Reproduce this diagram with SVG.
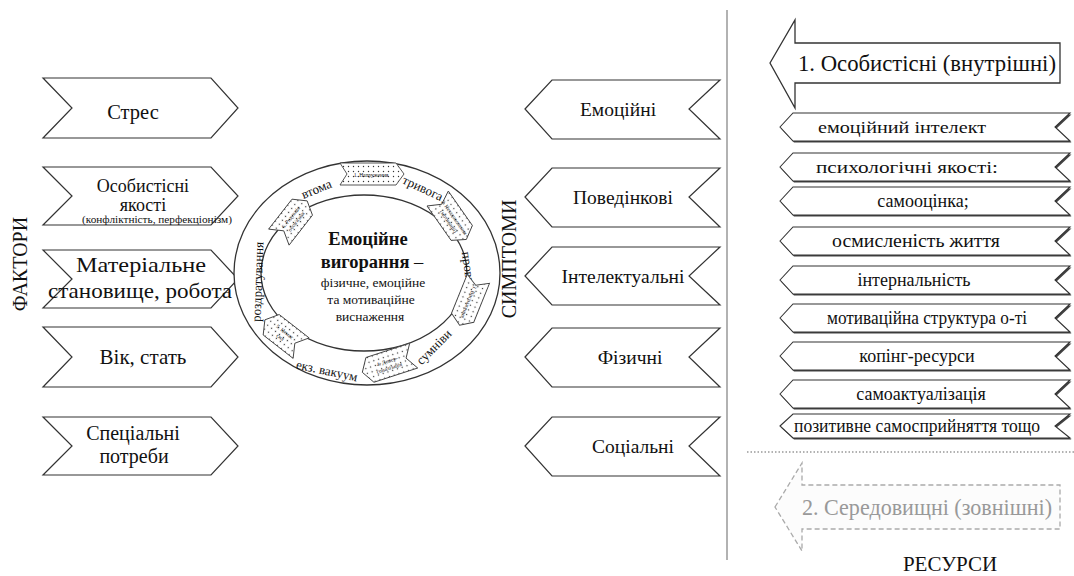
<svg xmlns="http://www.w3.org/2000/svg" width="1074" height="576" viewBox="0 0 1074 576" font-family="'Liberation Serif', 'Times New Roman', serif">
<defs>
<pattern id="dots" width="5" height="5" patternUnits="userSpaceOnUse">
<rect width="5" height="5" fill="#fff"/>
<circle cx="2.5" cy="2.5" r="0.7" fill="#333"/>
</pattern>
<style>
text{font-family:'Liberation Serif','Times New Roman',serif;fill:#111;text-anchor:middle;}
.chev{fill:#fff;stroke:#333;stroke-width:1.2;}
.sm{fill:#fff;stroke:#333;stroke-width:1.1;}
.shd{fill:#444;stroke:none;}
.s19{font-size:19.5px;}
.r18{font-size:18px;}
.r17{font-size:17px;}
.ring{font-size:13px;}
.dchev{fill:url(#dots);stroke:#444;stroke-width:0.9;}
.tiny{font-size:5.5px;}
</style>
</defs>
<rect width="1074" height="576" fill="#fff"/>

<!-- divider -->
<line x1="727" y1="10" x2="727" y2="560" stroke="#999" stroke-width="1.5"/>
<line x1="747" y1="452" x2="1074" y2="452" stroke="#999" stroke-width="1.5" stroke-dasharray="1.5,2"/>

<!-- side labels -->
<text transform="translate(27,264) rotate(-90)" style="font-size:20px">ФАКТОРИ</text>
<text transform="translate(516,259) rotate(-90)" style="font-size:20px">СИМПТОМИ</text>
<text x="950" y="571" style="font-size:21px">РЕСУРСИ</text>

<!-- Factors -->
<g id="f-stres">
<path class="chev" d="M43,78 L211,78 L238,108 L211,138 L43,138 L72,108 Z"/>
<text x="133" y="119" style="font-size:20.5px">Стрес</text>
</g>
<g id="f-osob">
<path class="chev" d="M43,167 L211,167 L238,196 L211,225 L43,225 L72,196 Z"/>
<text x="143" y="192" style="font-size:18px">Особистісні</text>
<text x="143" y="211" style="font-size:18px">якості</text>
<text x="157" y="223" style="font-size:9.5px" textLength="150" lengthAdjust="spacingAndGlyphs">(конфліктність, перфекціонізм)</text>
</g>
<g id="f-mat">
<path class="chev" d="M43,250 L211,250 L238,279 L211,308 L43,308 L72,279 Z"/>
<text x="141" y="272" style="font-size:21.5px" textLength="130" lengthAdjust="spacingAndGlyphs">Матеріальне</text>
<text x="140" y="298" style="font-size:21.5px" textLength="184" lengthAdjust="spacingAndGlyphs">становище, робота</text>
</g>
<g id="f-vik">
<path class="chev" d="M43,327 L211,327 L238,357 L211,387 L43,387 L72,357 Z"/>
<text x="143" y="364" style="font-size:21px">Вік, стать</text>
</g>
<g id="f-spec">
<path class="chev" d="M43,417 L211,417 L238,446 L211,475 L43,475 L72,446 Z"/>
<text x="133" y="440" style="font-size:20px">Спеціальні</text>
<text x="134" y="463" style="font-size:20px">потреби</text>
</g>

<!-- Symptoms -->
<g id="s-emo">
<path class="chev" d="M525,109 L552,80 L720,80 L689,109 L720,139 L552,139 Z"/>
<text class="s19" x="618" y="116">Емоційні</text>
</g>
<g id="s-pov">
<path class="chev" d="M525,197 L552,168 L720,168 L689,197 L720,227 L552,227 Z"/>
<text class="s19" x="623" y="204">Поведінкові</text>
</g>
<g id="s-int">
<path class="chev" d="M525,276 L552,247 L720,247 L689,276 L720,305 L552,305 Z"/>
<text class="s19" x="623" y="283">Інтелектуальні</text>
</g>
<g id="s-fiz">
<path class="chev" d="M525,357 L552,328 L720,328 L689,357 L720,387 L552,387 Z"/>
<text class="s19" x="630" y="364">Фізичні</text>
</g>
<g id="s-soc">
<path class="chev" d="M525,446 L552,417 L720,417 L689,446 L720,476 L552,476 Z"/>
<text class="s19" x="633" y="453">Соціальні</text>
</g>

<!-- Central ring -->
<g id="burnout">
<ellipse cx="367" cy="273" rx="133" ry="112" fill="#fff" stroke="#333" stroke-width="1.3"/>
<ellipse cx="364" cy="273" rx="103" ry="78" fill="#fff" stroke="#333" stroke-width="1.3"/>
<text x="368" y="245" style="font-size:18.5px;font-weight:bold">Емоційне</text>
<text x="372" y="268" style="font-size:18.5px"><tspan font-weight="bold">вигорання</tspan> –</text>
<text x="373" y="287" style="font-size:13.5px">фізичне, емоційне</text>
<text x="371" y="304" style="font-size:13.5px">та мотиваційне</text>
<text x="370" y="321" style="font-size:13.5px">виснаження</text>

<text class="ring" transform="translate(318,193) rotate(-22)">втома</text>
<text class="ring" transform="translate(421,192) rotate(25)">тривога</text>
<text class="ring" transform="translate(465,275) rotate(82)">провина</text>
<text class="ring" transform="translate(437,350) rotate(-45)">сумніви</text>
<text class="ring" transform="translate(326,375) rotate(12)">екз. вакуум</text>
<text class="ring" transform="translate(262,282) rotate(-88)">роздратування</text>

<g transform="translate(371,174)">
<path class="dchev" d="M-31,-11 L25,-11 L33,0 L25,11 L-31,11 L-24,0 Z"/>
<text class="tiny" x="0" y="3">1. Напруження</text>
</g>
<g transform="translate(452,219) rotate(55)">
<path class="dchev" d="M-25,-13 L17,-13 L25,0 L17,13 L-25,13 L-18,0 Z"/>
<text class="tiny" x="0" y="-1">2. Незадоволення</text>
<text class="tiny" x="0" y="6">(мотивації)</text>
</g>
<g transform="translate(469,302) rotate(112)">
<path class="dchev" d="M-25,-12 L17,-12 L25,0 L17,12 L-25,12 L-18,0 Z"/>
<text class="tiny" x="0" y="2">3. Виснаження</text>
</g>
<g transform="translate(388,364) rotate(162)">
<path class="dchev" d="M-27,-13 L19,-13 L27,0 L19,13 L-27,13 L-19,0 Z"/>
<text class="tiny" transform="rotate(180)" x="0" y="-1">4. Депер-</text>
<text class="tiny" transform="rotate(180)" x="0" y="6">соналізація</text>
</g>
<g transform="translate(283,334) rotate(218)">
<path class="dchev" d="M-23,-13 L15,-13 L23,0 L15,13 L-23,13 L-15,0 Z"/>
<text class="tiny" transform="rotate(180)" x="0" y="-1">5. Немає</text>
<text class="tiny" transform="rotate(180)" x="0" y="6">сил</text>
</g>
<g transform="translate(293,219) rotate(-52)">
<path class="dchev" d="M-23,-13 L15,-13 L23,0 L15,13 L-23,13 L-15,0 Z"/>
<text class="tiny" x="0" y="-1">6. Редукція</text>
<text class="tiny" x="0" y="6">обов'язків</text>
</g>
</g>

<!-- Resources -->
<g id="r-big1">
<path d="M770,63 L795,20 L795,43 L1060,43 L1060,83 L795,83 L795,108 Z" fill="#fff" stroke="#333" stroke-width="1.3"/>
<text x="927" y="71" style="font-size:23px" textLength="258" lengthAdjust="spacingAndGlyphs">1. Особистісні (внутрішні)</text>
</g>
<g id="r-1">
<path class="shd" d="M781,128.5 L794,114.5 L1071.5,114.5 L1056.5,128.5 L1071.5,142.5 L794,142.5 Z"/>
<path class="sm" d="M780,127 L793,113 L1070,113 L1055,127 L1070,141 L793,141 Z"/>
<text class="r17" x="902" y="133" textLength="168" lengthAdjust="spacingAndGlyphs">емоційний інтелект</text>
</g>
<g id="r-2">
<path class="shd" d="M781,168.5 L794,154.5 L1071.5,154.5 L1056.5,168.5 L1071.5,182.5 L794,182.5 Z"/>
<path class="sm" d="M780,167 L793,153 L1070,153 L1055,167 L1070,181 L793,181 Z"/>
<text class="r17" x="907" y="173" textLength="182" lengthAdjust="spacingAndGlyphs">психологічні якості:</text>
</g>
<g id="r-3">
<path class="shd" d="M781,202.5 L794,188.5 L1071.5,188.5 L1056.5,202.5 L1071.5,216.5 L794,216.5 Z"/>
<path class="sm" d="M780,201 L793,187 L1070,187 L1055,201 L1070,215 L793,215 Z"/>
<text class="r18" x="923" y="207">самооцінка;</text>
</g>
<g id="r-4">
<path class="shd" d="M781,242.5 L794,228.5 L1071.5,228.5 L1056.5,242.5 L1071.5,256.5 L794,256.5 Z"/>
<path class="sm" d="M780,241 L793,227 L1070,227 L1055,241 L1070,255 L793,255 Z"/>
<text class="r18" x="916" y="247" textLength="168" lengthAdjust="spacingAndGlyphs">осмисленість життя</text>
</g>
<g id="r-5">
<path class="shd" d="M781,281.5 L794,267.5 L1071.5,267.5 L1056.5,281.5 L1071.5,295.5 L794,295.5 Z"/>
<path class="sm" d="M780,280 L793,266 L1070,266 L1055,280 L1070,294 L793,294 Z"/>
<text class="r18" x="914" y="286">інтернальність</text>
</g>
<g id="r-6">
<path class="shd" d="M781,319.5 L794,305.5 L1071.5,305.5 L1056.5,319.5 L1071.5,333.5 L794,333.5 Z"/>
<path class="sm" d="M780,318 L793,304 L1070,304 L1055,318 L1070,332 L793,332 Z"/>
<text class="r18" x="927" y="324" textLength="200" lengthAdjust="spacingAndGlyphs">мотиваційна структура о-ті</text>
</g>
<g id="r-7">
<path class="shd" d="M781,357.5 L794,343.5 L1071.5,343.5 L1056.5,357.5 L1071.5,371.5 L794,371.5 Z"/>
<path class="sm" d="M780,356 L793,342 L1070,342 L1055,356 L1070,370 L793,370 Z"/>
<text class="r18" x="917" y="362">копінг-ресурси</text>
</g>
<g id="r-8">
<path class="shd" d="M781,395.5 L794,381.5 L1071.5,381.5 L1056.5,395.5 L1071.5,409.5 L794,409.5 Z"/>
<path class="sm" d="M780,394 L793,380 L1070,380 L1055,394 L1070,408 L793,408 Z"/>
<text class="r18" x="921" y="400">самоактуалізація</text>
</g>
<g id="r-9">
<path class="shd" d="M781,427.5 L794,415.5 L1071.5,415.5 L1056.5,427.5 L1071.5,439.5 L794,439.5 Z"/>
<path class="sm" d="M780,426 L793,414 L1070,414 L1055,426 L1070,438 L793,438 Z"/>
<text class="r18" x="917" y="432" textLength="246" lengthAdjust="spacingAndGlyphs">позитивне самосприйняття тощо</text>
</g>
<g id="r-big2">
<path d="M775,507 L802,463 L802,485 L1060,485 L1060,529 L802,529 L802,551 Z" fill="#fcfcfc" stroke="#aaa" stroke-width="1.3" stroke-dasharray="5,3"/>
<text x="927" y="515" style="font-size:23px;fill:#999" textLength="250" lengthAdjust="spacingAndGlyphs">2. Середовищні (зовнішні)</text>
</g>
</svg>
